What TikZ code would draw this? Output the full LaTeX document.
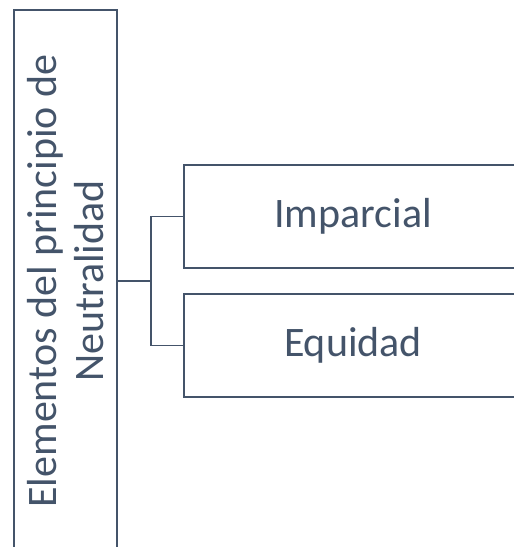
\documentclass[tikz,border=0pt]{standalone}
\usepackage{fontspec}
\setmainfont{Carlito}
\usepackage{tikz}
\definecolor{slate}{HTML}{44546A}

\begin{document}
\begin{tikzpicture}[x=0.5pt, y=-0.5pt, line width=0.8pt,
  itembox/.style={rectangle, draw=slate, text=slate, inner sep=0pt, font=\fontsize{21}{23.5}\selectfont, align=center}]
\useasboundingbox (0,0) rectangle (514,547);
\clip (0,0) rectangle (514,547);
\node [itembox, rotate=90, minimum width=271pt, minimum height=51.5pt] (neut) at (65.5,281) {Elementos del principio de\\Neutralidad};
\node [itembox, minimum width=169pt, minimum height=51.5pt] (imp) at (353,216.5) {Imparcial};
\node [itembox, minimum width=169pt, minimum height=51.5pt] (equ) at (353,345.5) {Equidad};
\coordinate (fork) at (151,281);

\draw[slate] (neut.south) -- (fork) |- (imp.west);
\draw[slate] (fork) |- (equ.west);
\end{tikzpicture}
\end{document}
